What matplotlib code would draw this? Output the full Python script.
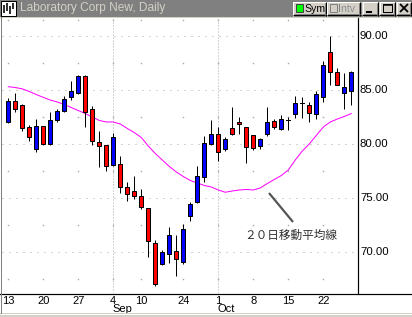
import matplotlib
matplotlib.use("Agg")
import matplotlib.pyplot as plt
from matplotlib.patches import Rectangle
from matplotlib.lines import Line2D
from matplotlib.transforms import Affine2D, blended_transform_factory

# ---------------- data ----------------
opens = [82.01, 83.98, 83.58, 81.55, 79.51, 81.64, 79.97, 82.19, 83.03, 84.32,
         84.69, 86.30, 83.21, 80.16, 79.88, 78.03, 78.12, 76.00, 75.68, 75.21,
         74.05, 70.86, 68.86, 69.82, 70.06, 69.10, 73.33, 74.60, 76.97, 79.97,
         80.93, 79.51, 81.45, 82.01, 81.55, 80.83, 79.78, 80.95, 82.16, 81.36,
         82.22, 82.78, 83.77, 83.64, 82.78, 84.32, 88.49, 86.64, 84.69, 84.93]
highs = [84.29, 84.75, 83.73, 81.76, 82.29, 81.70, 82.94, 83.21, 84.47, 85.81,
         86.42, 86.35, 83.49, 81.18, 79.90, 80.99, 78.86, 76.50, 77.04, 75.81,
         74.07, 71.11, 70.19, 72.31, 71.55, 72.59, 74.66, 77.99, 80.74, 82.22,
         81.55, 80.65, 83.45, 82.53, 81.60, 80.85, 80.53, 83.45, 82.29, 82.69,
         82.53, 84.44, 84.32, 83.92, 84.91, 87.69, 90.00, 87.01, 86.55, 86.73]
lows = [81.94, 82.96, 81.23, 80.31, 79.29, 79.93, 79.95, 82.01, 82.94, 84.05,
        84.60, 81.55, 79.88, 77.90, 77.47, 77.98, 75.50, 74.70, 74.88, 74.01,
        69.56, 66.88, 68.77, 69.01, 67.78, 68.92, 72.90, 74.51, 76.51, 79.95,
        78.43, 79.38, 80.86, 80.93, 78.27, 79.44, 79.54, 80.77, 81.39, 81.33,
        81.34, 82.44, 82.38, 82.06, 82.29, 83.92, 85.46, 85.42, 83.21, 83.61]
closes = [83.98, 83.27, 81.51, 80.62, 81.64, 79.97, 82.19, 83.03, 84.19, 84.88,
          86.30, 82.94, 80.25, 79.84, 77.96, 80.62, 76.00, 75.40, 75.21, 74.19,
          71.02, 67.01, 69.97, 71.55, 69.32, 72.10, 74.44, 77.04, 80.06, 80.93,
          79.23, 80.43, 80.90, 81.82, 79.75, 79.66, 80.43, 82.01, 81.60, 82.36,
          82.22, 83.77, 83.77, 82.84, 84.60, 87.29, 86.69, 85.44, 85.25, 86.64]
ma20 = [85.31, 85.23, 85.11, 84.86, 84.58, 84.32, 84.07, 83.89, 83.66, 83.38,
        83.10, 82.82, 82.50, 82.18, 82.04, 82.04, 81.85, 81.44, 81.06, 80.60,
        79.81, 79.12, 78.52, 77.92, 77.41, 76.99, 76.62, 76.39, 76.16, 76.02,
        75.74, 75.53, 75.65, 75.74, 75.79, 75.74, 75.93, 76.34, 76.71, 77.08,
        77.59, 78.52, 79.35, 80.00, 80.79, 81.57, 82.04, 82.31, 82.55, 82.82]

tick_idx = [0, 5, 10, 15, 19, 25, 30, 35, 40, 45]
tick_labels = ["13", "20", "27", "4", "10", "24", "1", "8", "15", "22"]
month_idx = [15, 30]
month_labels = ["Sep", "Oct"]
y_levels = [70, 75, 80, 85, 90]
y_minor = [67.5, 72.5, 77.5, 82.5, 87.5]
title = "Laboratory Corp New, Daily"
annotation = "２０日移動平均線"

# ---------------- figure ----------------
W, H = 412, 317
fig = plt.figure(figsize=(W / 100, H / 100), dpi=100, facecolor="white")
pxT = Affine2D().scale(1 / W, -1 / H).translate(0, 1) + fig.transFigure

ax = fig.add_axes([2 / W, (H - 293) / H, (358 - 2) / W, (293 - 18) / H])
ax.set_axis_off()
xmin, xmax = -0.9, 49.96
ymin, ymax = 66.2, 91.67
ax.set_xlim(xmin, xmax)
ax.set_ylim(ymin, ymax)

LW1 = 72 / 100  # 1 pixel

grid_c = "#a8a8a8"
for lv in y_levels:
    ax.plot([xmin, xmax], [lv, lv], ls=(0, (1, 6)), color=grid_c, lw=LW1, zorder=1)
for mi in month_idx:
    ax.plot([mi, mi], [ymin, ymax], ls=(0, (1, 2)), color=grid_c, lw=LW1, zorder=1)
for lv in y_minor + [91.5]:
    ax.plot(tick_idx, [lv] * len(tick_idx), ls="none", marker="s", ms=1.0,
            mew=0, color=grid_c, zorder=1)

# moving average
ax.plot(range(len(ma20)), ma20, color="#ff00ff", lw=LW1, zorder=2)

# candles
bw = 0.62
for i, (o, h, l, c) in enumerate(zip(opens, highs, lows, closes)):
    ax.plot([i, i], [l, h], color="black", lw=LW1, zorder=3, solid_capstyle="butt")
    if abs(c - o) < 1e-9:
        ax.plot([i - bw / 2, i + bw / 2], [o, o], color="black", lw=LW1, zorder=4)
    else:
        col = "#0000ff" if c > o else "#ff0000"
        ax.add_patch(Rectangle((i - bw / 2, min(o, c)), bw, abs(c - o),
                               facecolor=col, edgecolor="black", lw=LW1, zorder=4))

# annotation
fig.add_artist(Line2D([269, 293], [193, 222], color="#555555", lw=1.6,
                      transform=pxT, solid_capstyle="butt"))
fig.text(244, 235, annotation, transform=pxT, ha="left", va="center",
         fontsize=8.4, color="#303030", family=["Noto Sans CJK JP", "DejaVu Sans"])

# axes lines
fig.add_artist(Line2D([0, W], [293.5, 293.5], color="black", lw=LW1 * 1.2, transform=pxT))
fig.add_artist(Line2D([358.5, 358.5], [18, 293.5], color="black", lw=LW1 * 1.2, transform=pxT))

# x labels
bx = blended_transform_factory(ax.transData, pxT)
for i, lab in zip(tick_idx, tick_labels):
    ax.text(i, 301, lab, transform=bx, ha="center", va="center", fontsize=8,
            family="Liberation Sans", clip_on=False)
for i, lab in zip(month_idx, month_labels):
    ax.text(i - 0.1, 309.5, lab, transform=bx, ha="left", va="center", fontsize=8,
            family="Liberation Sans", clip_on=False)

# y labels
by = blended_transform_factory(pxT, ax.transData)
for lv in y_levels:
    fig.text(360, lv, f"{lv:.2f}", transform=by, ha="left", va="center",
             fontsize=8.2, family="Liberation Sans")

# ---------------- window chrome ----------------
def rect(x0, y0, x1, y1, fc, ec="none", lw=0):
    fig.add_artist(Rectangle((x0, y0), x1 - x0, y1 - y0, transform=pxT,
                             facecolor=fc, edgecolor=ec, lw=lw))

def line(xs, ys, c, lw=LW1):
    fig.add_artist(Line2D(xs, ys, color=c, lw=lw, transform=pxT,
                          solid_capstyle="butt"))

rect(0, 0, W, 16.5, "#808080")
rect(0, 16.5, W, 18, "#d4d0c8")
rect(0, 313, W, H, "#d4d0c8")
line([0, W], [313.5, 313.5], "white")
line([0.5, 0.5], [17, 313], "#404040")
line([1.5, 1.5], [17, 313], "#808080")

# icon
rect(1, 1, 16, 15.5, "white", "black", LW1)
for xx, y0, y1 in [(4.5, 5, 13), (7.5, 3, 11), (10.5, 6, 14), (13, 3, 9)]:
    line([xx, xx], [y0, y1], "black", LW1 * 1.6)

fig.text(20, 8.5, title, transform=pxT, ha="left", va="center", fontsize=8.6,
         color="#d4d0c8", family="Liberation Sans")

def button(x0, y0, x1, y1):
    rect(x0, y0, x1, y1, "#d4d0c8")
    line([x0, x1], [y0 + 0.5, y0 + 0.5], "white")
    line([x0 + 0.5, x0 + 0.5], [y0, y1], "white")
    line([x0, x1], [y1 - 0.5, y1 - 0.5], "black")
    line([x1 - 0.5, x1 - 0.5], [y0, y1], "black")
    line([x0 + 1, x1 - 1], [y1 - 1.5, y1 - 1.5], "#808080")
    line([x1 - 1.5, x1 - 1.5], [y0 + 1, y1 - 1], "#808080")

button(293, 1.5, 327, 15.5)
rect(296, 4, 303, 12, "#00ff00", "#404040", LW1)
fig.text(304, 8.8, "Sym", transform=pxT, ha="left", va="center", fontsize=7.6,
         family="Liberation Sans", color="black")
button(327, 1.5, 361, 15.5)
rect(330, 4, 337, 12, "#d4d0c8", "#808080", LW1)
fig.text(338.5, 9.3, "Intv", transform=pxT, ha="left", va="center", fontsize=7.6,
         family="Liberation Sans", color="white")
fig.text(338, 8.8, "Intv", transform=pxT, ha="left", va="center", fontsize=7.6,
         family="Liberation Sans", color="#808080")
button(362.5, 1.5, 378.5, 15.5)
rect(366, 10.5, 372, 12.5, "black")
button(379.5, 1.5, 395.5, 15.5)
rect(383, 3.5, 392, 12, "none", "black", LW1)
line([383, 392], [4.5, 4.5], "black", LW1 * 1.5)
button(396.5, 1.5, 412, 15.5)
line([400, 408], [4, 12], "black", LW1 * 1.8)
line([400, 408], [12, 4], "black", LW1 * 1.8)

fig.savefig("out.png", dpi=100, facecolor="white")
